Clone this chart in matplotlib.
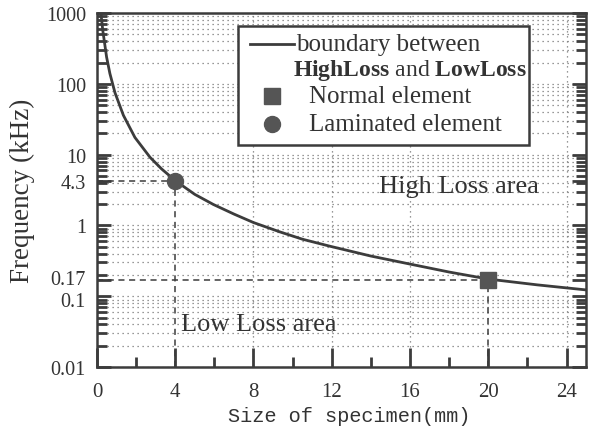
import matplotlib
matplotlib.use("Agg")
import matplotlib.pyplot as plt
from matplotlib.patches import Rectangle
from matplotlib.lines import Line2D
from matplotlib.transforms import ScaledTranslation

plt.rcParams['font.family'] = ['Liberation Serif', 'DejaVu Serif']
plt.rcParams['mathtext.fontset'] = 'custom'
plt.rcParams['mathtext.bf'] = 'Liberation Serif:bold'
plt.rcParams['mathtext.rm'] = 'Liberation Serif'

# boundary curve
size_mm = [0.2, 0.3, 0.49, 0.66, 0.92, 1.35, 1.94, 2.71, 3.3, 4.0, 5.0, 5.95, 7.0, 8.0,
           9.36, 10.5, 11.9, 14.0, 16.0, 18.0, 20.0, 22.5, 25.0]
freq_khz = [1000, 560, 240, 140, 75, 36, 17.5, 9.2, 6.3, 4.3, 2.75, 1.98, 1.45, 1.1,
            0.81, 0.64, 0.51, 0.37, 0.285, 0.22, 0.175, 0.145, 0.123]

# marked elements
normal_x, normal_f = [20], [0.17]
laminated_x, laminated_f = [4], [4.3]

x_ticks = [0, 4, 8, 12, 16, 20, 24]
x_minor = [2, 6, 10, 14, 18, 22]
y_ticks = [0.01, 0.1, 0.17, 1, 4.3, 10, 100, 1000]
y_ticklabels = ['0.01', '0.1', '0.17', '1', '4.3', '10', '100', '1000']

ink = '#3c3c3c'
txt = '#333333'
fig = plt.figure(figsize=(5.95, 4.27), dpi=100)
ax = fig.add_axes([0.163, 0.138, 0.822, 0.829])
ax.set_yscale('log')
ax.set_xlim(0, 25)
ax.set_ylim(0.01, 1000)

ax.set_xticks(x_ticks)
ax.set_xticks(x_minor, minor=True)
ax.set_yticks(y_ticks)
ax.set_yticklabels(y_ticklabels)
ax.tick_params(axis='both', which='both', direction='in', colors=ink, labelcolor=txt,
               labelsize=14.5, width=2.0)
ax.tick_params(axis='x', labelsize=15)
ax.tick_params(axis='y', which='major', length=10, pad=8)
ax.tick_params(axis='y', which='minor', length=7)
ax.tick_params(axis='x', which='major', length=14, pad=11)
ax.tick_params(axis='x', which='minor', length=7)
ax.tick_params(axis='y', which='both', right=True)
ax.xaxis.set_minor_formatter(plt.NullFormatter())
ax.yaxis.set_minor_formatter(plt.NullFormatter())

ax.xaxis.grid(True, which='major', linestyle=(0, (1, 3)), color='#777777', linewidth=0.9)
ax.yaxis.grid(True, which='both', linestyle=(0, (1, 3)), color='#777777', linewidth=0.9)
for t, v in zip(ax.yaxis.get_major_ticks(), y_ticks):
    if v in (0.17, 4.3):
        t.gridline.set_visible(False)
for t, v in zip(ax.xaxis.get_major_ticks(), x_ticks):
    if v in (0, 4, 20):
        t.gridline.set_visible(False)

# nudge the two crowded labels slightly apart
for lab in ax.get_yticklabels():
    if lab.get_text() == '0.17':
        lab.set_transform(lab.get_transform() + ScaledTranslation(0, 2.5 / 100, fig.dpi_scale_trans))
    elif lab.get_text() == '0.1':
        lab.set_transform(lab.get_transform() + ScaledTranslation(0, -2.5 / 100, fig.dpi_scale_trans))

for s in ax.spines.values():
    s.set_linewidth(1.8)
    s.set_color(ink)

# guide lines
for gx, gf in ((laminated_x[0], laminated_f[0]), (normal_x[0], normal_f[0])):
    ax.plot([0, gx], [gf, gf], linestyle=(0, (4, 3)), color=ink, linewidth=1.1)
    ax.plot([gx, gx], [0.01, gf], linestyle=(0, (4, 3)), color=ink, linewidth=1.1)

ax.plot(size_mm, freq_khz, color=ink, linewidth=2.0, solid_joinstyle='round')
ax.plot(normal_x, normal_f, 's', color='#555555', markersize=11, zorder=5)
ax.plot(laminated_x, laminated_f, 'o', color='#555555', markersize=11.5, zorder=5)

ax.text(14.4, 3.6, 'High Loss area', fontsize=19, color=txt, va='center', ha='left')
ax.text(4.3, 0.04, 'Low Loss area', fontsize=19, color=txt, va='center', ha='left')

ax.set_ylabel('Frequency (kHz)', fontsize=19.5, color=txt, labelpad=8)
ax.set_xlabel('Size of specimen(mm)', fontsize=14.6, color=txt, labelpad=3,
              family=['Liberation Mono', 'DejaVu Sans Mono'])
ax.xaxis.label.set_x(0.515)

# legend box (axes fraction)
T = ax.transAxes
ax.add_patch(Rectangle((0.288, 0.627), 0.595, 0.336, transform=T, fill=True,
                       facecolor='white', edgecolor=ink, linewidth=1.8, zorder=6))
ax.add_line(Line2D([0.313, 0.403], [0.912, 0.912], transform=T, color=ink, linewidth=2.0, zorder=7))
ax.text(0.408, 0.912, 'boundary between', transform=T, fontsize=18, color=txt,
        va='center', ha='left', zorder=7)
ax.text(0.400, 0.840, r'$\mathbf{HighLoss}$ and $\mathbf{LowLoss}$', transform=T, fontsize=17,
        color=txt, va='center', ha='left', zorder=7)
ax.plot([0.358], [0.767], 's', transform=T, color='#555555', markersize=11, zorder=7, clip_on=False)
ax.plot([0.358], [0.688], 'o', transform=T, color='#555555', markersize=11.5, zorder=7, clip_on=False)
ax.text(0.433, 0.767, 'Normal element', transform=T, fontsize=18, color=txt,
        va='center', ha='left', zorder=7)
ax.text(0.433, 0.688, 'Laminated element', transform=T, fontsize=18, color=txt,
        va='center', ha='left', zorder=7)

fig.savefig('out.png', dpi=100, facecolor='white')
